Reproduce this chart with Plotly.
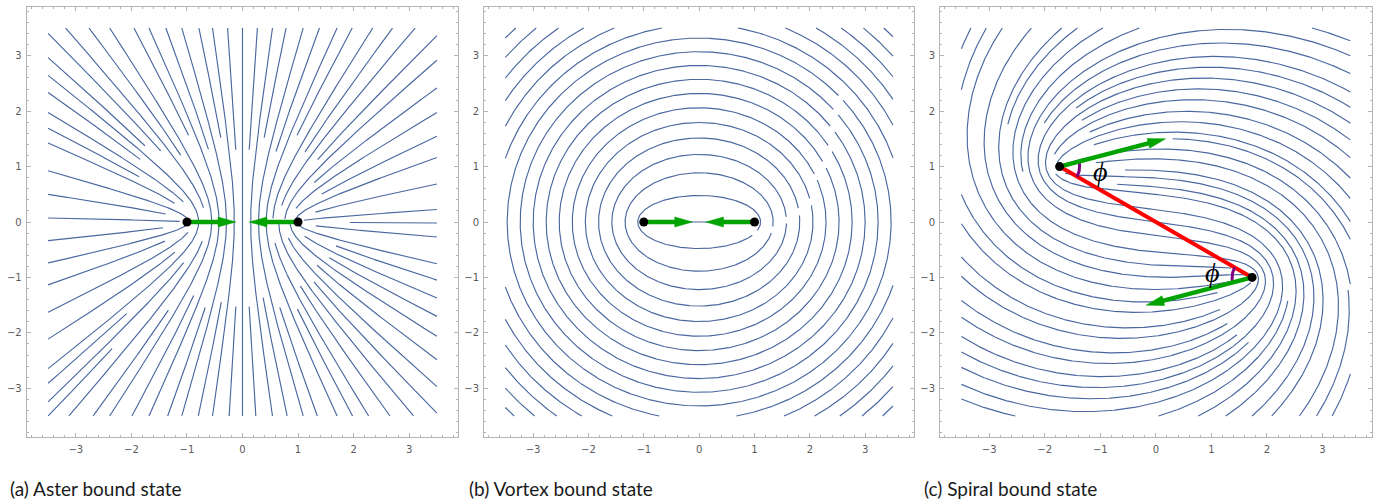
import math
import plotly.graph_objects as go

# ---------------- data ----------------
PANEL_CAPTIONS = ["(a) Aster bound state", "(b) Vortex bound state", "(c) Spiral bound state"]
CAPTION_LEFT_PX = [8, 467, 922]

# defect (black dot) positions for each bound state
ASTER_DEFECT_X = [-1.0, 1.0]
ASTER_DEFECT_Y = [0.0, 0.0]
VORTEX_DEFECT_X = [-1.0, 1.0]
VORTEX_DEFECT_Y = [0.0, 0.0]
SPIRAL_DEFECT_X = [-1.732, 1.732]
SPIRAL_DEFECT_Y = [1.0, -1.0]

# director phase offset of the field (degrees) for aster / vortex / spiral
FIELD_PHASE_DEG = [0.0, 90.0, 112.5]

# green polarity arrows: tips (tails are at the defects)
ASTER_ARROW_TIP_X = [-0.12, 0.12]
ASTER_ARROW_TIP_Y = [0.0, 0.0]
VORTEX_ARROW_TIP_X = [-0.12, 0.12]
VORTEX_ARROW_TIP_Y = [0.0, 0.0]
SPIRAL_ARROW_TIP_X = [0.175, -0.175]
SPIRAL_ARROW_TIP_Y = [1.5, -1.5]

# angle markers in the spiral panel
PHI_ARC_RADIUS = 0.36
PHI_LABEL_X = [-1.0, 1.02]
PHI_LABEL_Y = [0.91, -0.92]
PHI_LABEL = "\u03d5"

TICK_VALUES = [-3, -2, -1, 0, 1, 2, 3]
AXIS_RANGE = [-3.885, 3.885]
STREAM_LIMIT = 3.5

STREAM_COLOR = "#4a67a0"
ARROW_COLOR = "#00a300"

# ---------------- streamline computation ----------------
def make_field(dxs, dys, psi_deg):
    psi = math.radians(psi_deg)
    def f(x, y):
        th = psi
        for a, b in zip(dxs, dys):
            th += 0.5 * math.atan2(y - b, x - a)
        return math.cos(th), math.sin(th)
    return f


def streamlines(field, dxs, dys, seed0, dsep=0.24, ratio=0.5, h=0.02, lim=STREAM_LIMIT):
    dtest = dsep * ratio
    cell = dtest
    grid = {}
    lines = []
    owned = {}

    def key(x, y):
        return (int(math.floor(x / cell)), int(math.floor(y / cell)))

    def near(x, y, d, lid=None, s=0.0):
        i, j = key(x, y)
        r = int(math.ceil(d / cell))
        d2 = d * d
        for ii in range(i - r, i + r + 1):
            for jj in range(j - r, j + r + 1):
                pts = grid.get((ii, jj))
                if not pts:
                    continue
                for (px, py, pl, ps) in pts:
                    if (px - x) ** 2 + (py - y) ** 2 < d2:
                        if pl == lid and abs(ps - s) < 3 * dsep:
                            continue
                        return True
        return False

    def add(x, y, lid, s):
        k = key(x, y)
        item = (x, y, lid, s)
        grid.setdefault(k, []).append(item)
        owned.setdefault(lid, []).append((k, item))

    def inside(x, y):
        return -lim <= x <= lim and -lim <= y <= lim

    def dist_defect(x, y):
        return min(math.hypot(x - a, y - b) for a, b in zip(dxs, dys))

    def trace(x0, y0, sgn, lid):
        ux, uy = field(x0, y0)
        dx, dy = sgn * ux, sgn * uy
        x, y = x0, y0
        s = 0.0
        out = []
        for _ in range(3000):
            ux, uy = field(x, y)
            if ux * dx + uy * dy < 0:
                ux, uy = -ux, -uy
            mx, my = x + 0.5 * h * ux, y + 0.5 * h * uy
            vx, vy = field(mx, my)
            if vx * ux + vy * uy < 0:
                vx, vy = -vx, -vy
            nx, ny = x + h * vx, y + h * vy
            if not inside(nx, ny):
                t = 1.0
                for c0, c1 in ((x, nx), (y, ny)):
                    if c1 > lim:
                        t = min(t, (lim - c0) / (c1 - c0))
                    if c1 < -lim:
                        t = min(t, (-lim - c0) / (c1 - c0))
                out.append((x + t * (nx - x), y + t * (ny - y)))
                break
            s += h
            if near(nx, ny, dtest, lid, sgn * s):
                break
            if dist_defect(nx, ny) < 0.04:
                out.append((nx, ny))
                break
            out.append((nx, ny))
            add(nx, ny, lid, sgn * s)
            dx, dy = vx, vy
            x, y = nx, ny
        return out

    queue = []

    def try_seed(x, y):
        if not inside(x, y) or dist_defect(x, y) < 0.08 or near(x, y, dsep):
            return False
        lid = len(lines)
        add(x, y, lid, 0.0)
        b = trace(x, y, -1, lid)
        f = trace(x, y, 1, lid)
        line = b[::-1] + [(x, y)] + f
        length = sum(math.hypot(line[k + 1][0] - line[k][0], line[k + 1][1] - line[k][1])
                     for k in range(len(line) - 1))
        if length < 0.15:
            for k, item in owned.pop(lid, []):
                grid[k].remove(item)
            return False
        lines.append(line)
        queue.append(line)
        return True

    def drain():
        while queue:
            line = queue.pop(0)
            for k in range(0, len(line) - 1, 3):
                x0, y0 = line[k]
                x1, y1 = line[k + 1]
                L = math.hypot(x1 - x0, y1 - y0)
                if L == 0:
                    continue
                tx, ty = (x1 - x0) / L, (y1 - y0) / L
                for sg in (1, -1):
                    try_seed(x0 - sg * ty * dsep, y0 + sg * tx * dsep)

    try_seed(*seed0)
    drain()
    n = int(2 * lim / dsep)
    for i in range(n + 1):
        for j in range(n + 1):
            if try_seed(-lim + i * dsep + 0.01, -lim + j * dsep + 0.01):
                drain()
    return lines


def to_xy(lines):
    xs, ys = [], []
    for line in lines:
        for p in line:
            xs.append(p[0])
            ys.append(p[1])
        xs.append(None)
        ys.append(None)
    return xs, ys


# ---------------- figure ----------------
fig = go.Figure()

W, H = 1382, 503
x_domains = [[26.7 / W, 458.3 / W], [484.0 / W, 914.3 / W], [940.0 / W, 1371.7 / W]]
y_domain = [1 - 437.3 / H, 1 - 6.7 / H]

panels = [
    (ASTER_DEFECT_X, ASTER_DEFECT_Y, ASTER_ARROW_TIP_X, ASTER_ARROW_TIP_Y, (0.0, 0.5)),
    (VORTEX_DEFECT_X, VORTEX_DEFECT_Y, VORTEX_ARROW_TIP_X, VORTEX_ARROW_TIP_Y, (0.0, 0.0)),
    (SPIRAL_DEFECT_X, SPIRAL_DEFECT_Y, SPIRAL_ARROW_TIP_X, SPIRAL_ARROW_TIP_Y, (0.0, 0.0)),
]


def arrow_traces(x0, y0, x1, y1, xa, ya):
    L = math.hypot(x1 - x0, y1 - y0)
    ux, uy = (x1 - x0) / L, (y1 - y0) / L
    hl, hw = 0.32, 0.09
    bx, by = x1 - ux * hl, y1 - uy * hl
    shaft = go.Scatter(x=[x0, bx + ux * 0.03], y=[y0, by + uy * 0.03], mode="lines",
                       line=dict(color=ARROW_COLOR, width=4.3), xaxis=xa, yaxis=ya,
                       hoverinfo="skip")
    head = go.Scatter(x=[x1, bx - uy * hw, bx + uy * hw, x1],
                      y=[y1, by + ux * hw, by - ux * hw, y1],
                      mode="lines", fill="toself", fillcolor=ARROW_COLOR,
                      line=dict(color=ARROW_COLOR, width=0.5), xaxis=xa, yaxis=ya,
                      hoverinfo="skip")
    return [shaft, head]


for p, (dxs, dys, tipx, tipy, seed0) in enumerate(panels):
    xa = "x" if p == 0 else "x%d" % (p + 1)
    ya = "y" if p == 0 else "y%d" % (p + 1)
    field = make_field(dxs, dys, FIELD_PHASE_DEG[p])
    lines = streamlines(field, dxs, dys, seed0)
    sx, sy = to_xy(lines)
    fig.add_trace(go.Scatter(x=sx, y=sy, mode="lines",
                             line=dict(color=STREAM_COLOR, width=1.15),
                             xaxis=xa, yaxis=ya, hoverinfo="skip"))
    if p == 2:
        # red connecting line
        fig.add_trace(go.Scatter(x=dxs, y=dys, mode="lines",
                                 line=dict(color="#ff0000", width=4),
                                 xaxis=xa, yaxis=ya, hoverinfo="skip"))
        # purple angle arcs between arrow and red line
        for k in range(2):
            ox, oy = dxs[k], dys[k]
            other = 1 - k
            a_line = math.atan2(dys[other] - oy, dxs[other] - ox)
            a_arr = math.atan2(tipy[k] - oy, tipx[k] - ox)
            d = (a_arr - a_line + math.pi) % (2 * math.pi) - math.pi
            n = 20
            ax_ = [ox + PHI_ARC_RADIUS * math.cos(a_line + d * i / n) for i in range(n + 1)]
            ay_ = [oy + PHI_ARC_RADIUS * math.sin(a_line + d * i / n) for i in range(n + 1)]
            fig.add_trace(go.Scatter(x=ax_, y=ay_, mode="lines",
                                     line=dict(color="#800080", width=3),
                                     xaxis=xa, yaxis=ya, hoverinfo="skip"))
    for k in range(2):
        for tr in arrow_traces(dxs[k], dys[k], tipx[k], tipy[k], xa, ya):
            fig.add_trace(tr)
    fig.add_trace(go.Scatter(x=dxs, y=dys, mode="markers",
                             marker=dict(color="black", size=9),
                             xaxis=xa, yaxis=ya, hoverinfo="skip"))

for k in range(2):
    fig.add_annotation(x=PHI_LABEL_X[k], y=PHI_LABEL_Y[k], xref="x3", yref="y3",
                       text="<i>" + PHI_LABEL + "</i>", showarrow=False,
                       font=dict(family="Liberation Serif", size=28, color="black"))

axis_common = dict(
    range=AXIS_RANGE, showgrid=False, zeroline=False, showline=True, linecolor="#b4b4b4",
    linewidth=1, mirror="ticks", ticks="inside", ticklen=4, tickcolor="#b4b4b4",
    tickmode="array", tickvals=TICK_VALUES,
    tickfont=dict(family="DejaVu Sans", size=10, color="#5a5a5a"),
    minor=dict(ticks="inside", ticklen=2, tickcolor="#b4b4b4", dtick=0.2, tick0=0,
               showgrid=False),
)

layout = dict(width=W, height=H, margin=dict(l=0, r=0, t=0, b=0),
              plot_bgcolor="white", paper_bgcolor="white", showlegend=False)
for p in range(3):
    xk = "xaxis" if p == 0 else "xaxis%d" % (p + 1)
    yk = "yaxis" if p == 0 else "yaxis%d" % (p + 1)
    yname = "y" if p == 0 else "y%d" % (p + 1)
    xname = "x" if p == 0 else "x%d" % (p + 1)
    layout[xk] = dict(axis_common, domain=x_domains[p], anchor=yname, ticklabelstandoff=3)
    layout[yk] = dict(axis_common, domain=y_domain, anchor=xname, ticklabelstandoff=2)
fig.update_layout(**layout)

for p in range(3):
    fig.add_annotation(x=CAPTION_LEFT_PX[p] / W, y=1 - 488 / H, xref="paper", yref="paper",
                       xanchor="left", yanchor="middle", text=PANEL_CAPTIONS[p],
                       showarrow=False, font=dict(family="Lato", size=19, color="#1a1a1a"))

fig.write_html("out.html")
